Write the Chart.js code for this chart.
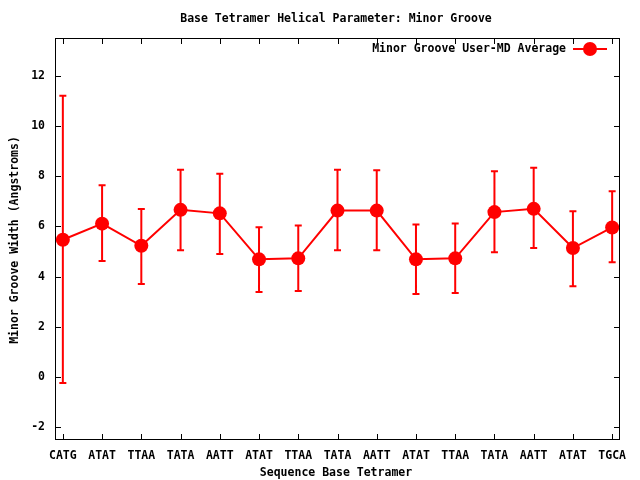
<!DOCTYPE html>
<html>
<head>
<meta charset="utf-8">
<script src="https://cdn.jsdelivr.net/npm/chart.js@4/dist/chart.umd.min.js"></script>
<style>
  html, body { margin: 0; padding: 0; background: #fff; }
  #wrap { width: 640px; height: 480px; }
</style>
</head>
<body>
<div id="wrap"><canvas id="chart" width="640" height="480"></canvas></div>
<script>
var tetramers = ['CATG', 'ATAT', 'TTAA', 'TATA', 'AATT', 'ATAT', 'TTAA', 'TATA',
                 'AATT', 'ATAT', 'TTAA', 'TATA', 'AATT', 'ATAT', 'TGCA'];
var grooveWidth = [5.47, 6.11, 5.23, 6.66, 6.52, 4.69, 4.73, 6.63,
                   6.63, 4.69, 4.73, 6.57, 6.70, 5.14, 5.96];
var errHigh = [11.2, 7.64, 6.69, 8.26, 8.10, 5.97, 6.04, 8.26,
               8.24, 6.08, 6.12, 8.20, 8.34, 6.60, 7.40];
var errLow = [-0.23, 4.62, 3.71, 5.05, 4.90, 3.39, 3.43, 5.05,
              5.05, 3.31, 3.35, 4.97, 5.14, 3.62, 4.57];
var yTicks = [-2, 0, 2, 4, 6, 8, 10, 12];

var FONT_SIZE = 11.5;
var FONT = 'bold ' + FONT_SIZE + 'px "DejaVu Sans Mono", "Liberation Mono", monospace';
var RED = '#ff0000';

var points = grooveWidth.map(function (v, i) { return { x: i, y: v }; });

var gnuplotLook = {
    id: 'gnuplotLook',
    beforeDatasetsDraw: function (chart) {
        var ctx = chart.ctx, a = chart.chartArea;
        var xs = chart.scales.x, ys = chart.scales.y;
        ctx.save();
        // frame
        ctx.strokeStyle = '#000';
        ctx.lineWidth = 1;
        ctx.strokeRect(a.left + 0.5, a.top + 0.5, a.right - a.left - 1, a.bottom - a.top - 1);
        // inward ticks
        ctx.beginPath();
        yTicks.forEach(function (t) {
            var y = Math.round(ys.getPixelForValue(t)) + 0.5;
            ctx.moveTo(a.left, y); ctx.lineTo(a.left + 6, y);
            ctx.moveTo(a.right, y); ctx.lineTo(a.right - 6, y);
        });
        tetramers.forEach(function (t, i) {
            var x = Math.round(xs.getPixelForValue(i)) + 0.5;
            ctx.moveTo(x, a.bottom); ctx.lineTo(x, a.bottom - 6);
            ctx.moveTo(x, a.top); ctx.lineTo(x, a.top + 6);
        });
        ctx.stroke();
        // error bars
        ctx.strokeStyle = RED;
        ctx.lineWidth = 2;
        ctx.beginPath();
        grooveWidth.forEach(function (v, i) {
            var x = xs.getPixelForValue(i);
            var yh = ys.getPixelForValue(errHigh[i]);
            var yl = ys.getPixelForValue(errLow[i]);
            ctx.moveTo(x, yh); ctx.lineTo(x, yl);
            ctx.moveTo(x - 3.5, yh); ctx.lineTo(x + 3.5, yh);
            ctx.moveTo(x - 3.5, yl); ctx.lineTo(x + 3.5, yl);
        });
        ctx.stroke();
        ctx.restore();
    },
    afterDraw: function (chart) {
        var ctx = chart.ctx;
        ctx.save();
        ctx.fillStyle = '#000';
        ctx.font = FONT;
        ctx.textBaseline = 'middle';
        ctx.textAlign = 'center';
        ctx.fillText('Base Tetramer Helical Parameter: Minor Groove', 336, 19);
        ctx.fillText('Sequence Base Tetramer', 336, 473);
        ctx.save();
        ctx.translate(15, 240);
        ctx.rotate(-Math.PI / 2);
        ctx.fillText('Minor Groove Width (Angstroms)', 0, 0);
        ctx.restore();
        // legend
        ctx.textAlign = 'right';
        ctx.fillText('Minor Groove User-MD Average', 566, 49);
        ctx.strokeStyle = RED;
        ctx.lineWidth = 2;
        ctx.beginPath();
        ctx.moveTo(573, 49); ctx.lineTo(607, 49);
        ctx.stroke();
        ctx.fillStyle = RED;
        ctx.beginPath();
        ctx.arc(590, 49, 7, 0, Math.PI * 2);
        ctx.fill();
        ctx.restore();
    }
};

new Chart(document.getElementById('chart').getContext('2d'), {
    type: 'line',
    data: {
        datasets: [{
            label: 'Minor Groove User-MD Average',
            data: points,
            borderColor: RED,
            backgroundColor: RED,
            borderWidth: 2,
            pointRadius: 7,
            pointHoverRadius: 7,
            pointBackgroundColor: RED,
            pointBorderColor: RED,
            pointBorderWidth: 0,
            tension: 0
        }]
    },
    options: {
        responsive: false,
        animation: false,
        layout: { padding: { left: 0, right: 20, top: 38, bottom: 0 } },
        plugins: {
            legend: { display: false },
            title: { display: false },
            tooltip: { enabled: false }
        },
        scales: {
            x: {
                type: 'linear',
                min: -0.2,
                max: 14.2,
                afterFit: function (s) { s.height = 40; },
                afterBuildTicks: function (s) {
                    s.ticks = tetramers.map(function (t, i) { return { value: i }; });
                },
                grid: { display: false, drawTicks: false },
                border: { display: false },
                ticks: {
                    color: '#000',
                    font: { family: '"DejaVu Sans Mono", monospace', size: FONT_SIZE, weight: 'bold' },
                    padding: 9,
                    maxRotation: 0,
                    autoSkip: false,
                    callback: function (v) { return tetramers[v]; }
                }
            },
            y: {
                min: -2.5,
                max: 13.5,
                afterFit: function (s) { s.width = 55; },
                afterBuildTicks: function (s) {
                    s.ticks = yTicks.map(function (t) { return { value: t }; });
                },
                grid: { display: false, drawTicks: false },
                border: { display: false },
                ticks: {
                    color: '#000',
                    font: { family: '"DejaVu Sans Mono", monospace', size: FONT_SIZE, weight: 'bold' },
                    padding: 10
                }
            }
        }
    },
    plugins: [gnuplotLook]
});
</script>
</body>
</html>
